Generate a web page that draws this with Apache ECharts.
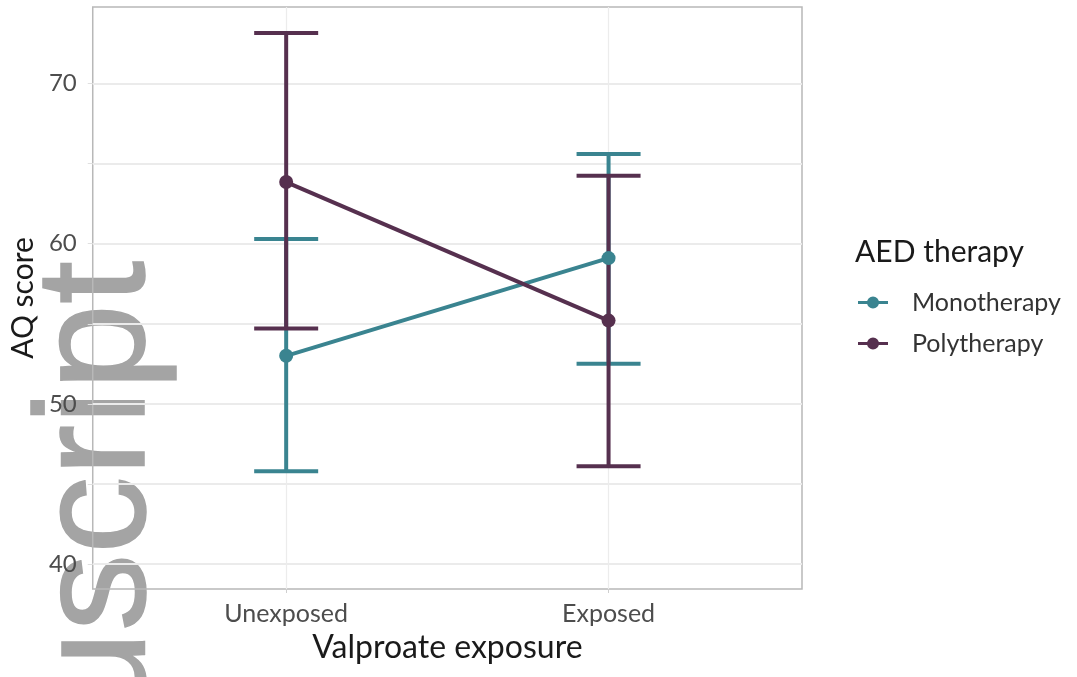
<!DOCTYPE html>
<html>
<head>
<meta charset="utf-8">
<script src="https://cdn.jsdelivr.net/npm/echarts@6/dist/echarts.min.js"></script>
<style>
  html, body { margin: 0; padding: 0; background: #fff; }
  #chart { width: 1077px; height: 677px; }
</style>
</head>
<body>
<div id="chart"></div>
<script>
// data
const categories = ['Unexposed', 'Exposed']
const xPos = [1, 2]
const monoMean = [53.0, 59.1]
const monoLow = [45.8, 52.5]
const monoHigh = [60.3, 65.6]
const polyMean = [63.85, 55.2]
const polyLow = [54.7, 46.1]
const polyHigh = [73.15, 64.25]
const yLabels = [40, 50, 60, 70]
const yGrid = [40, 45, 50, 55, 60, 65, 70]

const monoColor = '#3a8490'
const polyColor = '#56304f'
const font = 'Lato, "Open Sans", sans-serif'

const chart = echarts.init(document.getElementById('chart'))

const errorBars = (low, high, color) => ({
    type: 'custom',
    z: 3,
    data: xPos.map((x, i) => [x, low[i], high[i]]),
    encode: { x: 0, y: [1, 2] },
    renderItem: (params, api) => {
        const x = api.value(0)
        const top = api.coord([x, api.value(2)])
        const bot = api.coord([x, api.value(1)])
        const w = 32
        const style = { stroke: color, lineWidth: 4, fill: null }
        return {
            type: 'group',
            children: [
                { type: 'line', shape: { x1: top[0], y1: top[1], x2: bot[0], y2: bot[1] }, style },
                { type: 'line', shape: { x1: top[0] - w, y1: top[1], x2: top[0] + w, y2: top[1] }, style },
                { type: 'line', shape: { x1: bot[0] - w, y1: bot[1], x2: bot[0] + w, y2: bot[1] }, style }
            ]
        }
    }
})

const legendIcon = 'path://M0,4.5H30V7.5H0Z M21,6A6,6 0 1 1 9,6A6,6 0 1 1 21,6Z'

const option = {
    animation: false,
    backgroundColor: '#fff',
    grid: {
        left: 92,
        right: 275,
        top: 7,
        bottom: 88,
        show: true,
        borderColor: '#b8b8b8',
        borderWidth: 1.5
    },
    title: {
        text: 'AED therapy',
        left: 855,
        top: 237,
        padding: 0,
        textStyle: { fontFamily: font, fontSize: 30, fontWeight: 'normal', color: '#1a1a1a' }
    },
    legend: {
        orient: 'vertical',
        left: 858,
        top: 290,
        padding: 0,
        itemWidth: 32,
        itemHeight: 12,
        itemGap: 16,
        textStyle: { fontFamily: font, fontSize: 25, color: '#333', padding: [0, 0, 0, 18] },
        data: [
            { name: 'Monotherapy', icon: legendIcon, itemStyle: { color: monoColor } },
            { name: 'Polytherapy', icon: legendIcon, itemStyle: { color: polyColor } }
        ]
    },
    xAxis: {
        type: 'value',
        min: 0.4,
        max: 2.6,
        name: 'Valproate exposure',
        nameLocation: 'middle',
        nameGap: 43,
        nameTextStyle: { fontFamily: font, fontSize: 32, color: '#1a1a1a' },
        axisLine: { show: false },
        axisTick: { show: true, customValues: xPos, length: 4, lineStyle: { color: '#cfcfcf' } },
        axisLabel: {
            customValues: xPos,
            formatter: v => categories[xPos.indexOf(v)] || '',
            fontFamily: font,
            fontSize: 25,
            color: '#4d4d4d',
            margin: 12
        },
        splitLine: { show: true, lineStyle: { color: '#ececec', width: 1.2 } }
    },
    yAxis: {
        type: 'value',
        min: 38.44,
        max: 74.78,
        name: 'AQ score',
        nameLocation: 'middle',
        nameRotate: 90,
        nameGap: 52,
        nameTextStyle: { fontFamily: font, fontSize: 30, color: '#1a1a1a' },
        axisLine: { show: false },
        axisTick: { show: true, customValues: yGrid, length: 5, lineStyle: { color: '#e0e0e0' } },
        axisLabel: {
            customValues: yLabels,
            fontFamily: font,
            fontSize: 24,
            color: '#4d4d4d',
            margin: 16
        },
        splitLine: { show: true, lineStyle: { color: '#ebebeb', width: 2 } }
    },
    graphic: [
        {
            // watermark from the source page, sits under the chart
            type: 'text',
            z: -10,
            x: 179,
            y: 261,
            rotation: Math.PI / 2,
            style: {
                text: 'uscript',
                fontFamily: 'Liberation Sans',
                fontSize: 155,
                fill: '#a4a4a4',
                stroke: '#a4a4a4',
                lineWidth: 1.5,
                align: 'right',
                verticalAlign: 'bottom'
            }
        }
    ],
    series: [
        errorBars(monoLow, monoHigh, monoColor),
        errorBars(polyLow, polyHigh, polyColor),
        {
            name: 'Monotherapy',
            type: 'line',
            z: 4,
            data: xPos.map((x, i) => [x, monoMean[i]]),
            symbol: 'circle',
            symbolSize: 14,
            lineStyle: { color: monoColor, width: 4 },
            itemStyle: { color: monoColor }
        },
        {
            name: 'Polytherapy',
            type: 'line',
            z: 4,
            data: xPos.map((x, i) => [x, polyMean[i]]),
            symbol: 'circle',
            symbolSize: 14,
            lineStyle: { color: polyColor, width: 4 },
            itemStyle: { color: polyColor }
        }
    ]
}

chart.setOption(option)
</script>
</body>
</html>
